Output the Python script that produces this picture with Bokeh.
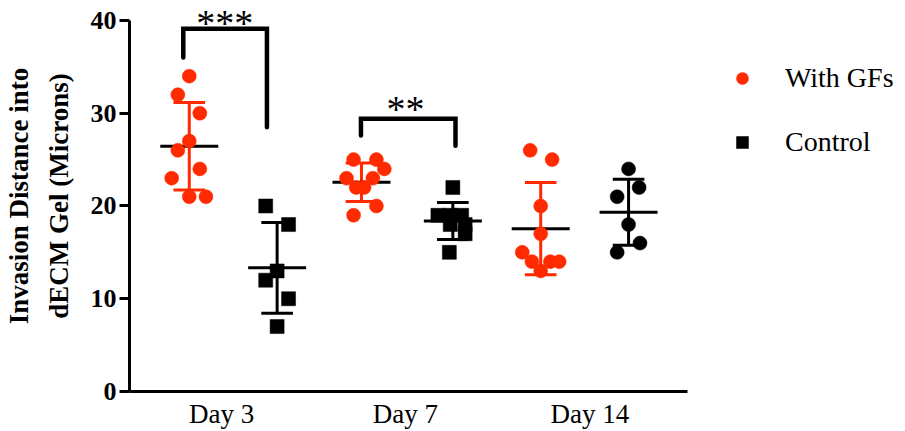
import numpy as np
from bokeh.plotting import figure
from bokeh.models import Range1d, FixedTicker, Legend, LegendItem
from bokeh.core.properties import value
from bokeh.embed import file_html
from bokeh.resources import INLINE

# ---------------- data ----------------
group_names = ["Day 3 With GFs", "Day 3 Control", "Day 7 With GFs", "Day 7 Control", "Day 14 With GFs", "Day 14 Control"]
group_pos = [1.0, 2.0, 2.96, 4.0, 5.0, 6.0]

gf_d3 = [34, 32, 30, 27, 26, 24, 23, 21, 21]
gf_d3_jit = [0, -0.13, 0.12, 0, -0.13, 0.12, -0.2, 0, 0.19]
ctrl_d3 = [20, 18, 13, 12, 10, 7]
ctrl_d3_jit = [-0.13, 0.13, 0, -0.13, 0.13, 0]
gf_d7 = [25, 25, 24, 23, 23, 22, 22, 20, 19]
gf_d7_jit = [-0.09, 0.17, 0.26, -0.17, 0.13, -0.06, 0.03, 0.17, -0.09]
ctrl_d7 = [22, 19, 19, 19, 18, 18, 17, 15]
ctrl_d7_jit = [0, -0.17, 0.1, -0.03, -0.03, 0.14, 0.14, -0.04]
gf_d14 = [26, 25, 20, 17, 15, 14, 14, 14, 13]
gf_d14_jit = [-0.12, 0.13, 0, 0, -0.21, -0.1, 0.11, 0.21, 0]
ctrl_d14 = [24, 22, 21, 18, 16, 15]
ctrl_d14_jit = [0, 0.12, -0.13, 0, 0.13, -0.13]

day_labels = ["Day 3", "Day 7", "Day 14"]
day_label_pos = [1.368, 3.46, 5.56]
y_ticks = [0, 10, 20, 30, 40]

sig_text = ["***", "**"]
sig_x = [1.405, 3.46]
sig_y = [39.7, 30.5]
bracket_xs = [[0.932, 0.932, 1.884, 1.884], [2.954, 2.954, 4.03, 4.03]]
bracket_ys = [[36.0, 39.1, 39.1, 28.5], [27.6, 29.4, 29.4, 26.5]]

RED = "#ff2a00"
BLACK = "#000000"
FONT = "Liberation Serif"

groups = [gf_d3, ctrl_d3, gf_d7, ctrl_d7, gf_d14, ctrl_d14]
jits = [gf_d3_jit, ctrl_d3_jit, gf_d7_jit, ctrl_d7_jit, gf_d14_jit, ctrl_d14_jit]
bar_colors = [RED, BLACK, RED, BLACK, RED, BLACK]

# ---------------- figure ----------------
x0 = 1 - 60 / 88.2
x1 = x0 + 779 / 88.2
p = figure(width=905, height=431, x_range=Range1d(x0, x1), y_range=Range1d(0, 42.156),
           output_backend="svg", toolbar_location=None,
           min_border_left=126, min_border_right=0, min_border_top=0, min_border_bottom=40)
p.outline_line_color = None
p.grid.visible = False
p.background_fill_color = "white"

# error bars (mean +/- SD) and mean lines
for pos, vals, col in zip(group_pos, groups, bar_colors):
    m = float(np.mean(vals))
    sd = float(np.std(vals, ddof=1))
    p.segment(x0=[pos, pos - 0.18, pos - 0.18], y0=[m - sd, m + sd, m - sd],
              x1=[pos, pos + 0.18, pos + 0.18], y1=[m + sd, m + sd, m - sd],
              line_color=col, line_width=3)
    p.segment(x0=[pos - 0.33], y0=[m], x1=[pos + 0.33], y1=[m], line_color=BLACK, line_width=3)

# points
gf_x = []; gf_y = []
for i in (0, 2, 4):
    gf_x += [group_pos[i] + j for j in jits[i]]
    gf_y += list(groups[i])
sq_x = []; sq_y = []
for i in (1, 3):
    sq_x += [group_pos[i] + j for j in jits[i]]
    sq_y += list(groups[i])
c14_x = [group_pos[5] + j for j in jits[5]]
c14_y = list(groups[5])

r_gf = p.scatter(gf_x, gf_y, marker="circle", size=14, fill_color=RED, line_color=RED, line_width=0.5)
r_sq = p.scatter(sq_x, sq_y, marker="square", size=14, fill_color=BLACK, line_color=BLACK, line_width=0.5)
p.scatter(c14_x, c14_y, marker="circle", size=14, fill_color=BLACK, line_color=BLACK, line_width=0.5)

# significance brackets
p.multi_line(xs=bracket_xs, ys=bracket_ys, line_color=BLACK, line_width=4.5,
             line_join="miter", line_cap="round")
p.text(x=sig_x, y=sig_y, text=sig_text, text_align="center", text_baseline="alphabetic",
       text_font=value(FONT), text_font_size="38px", text_color=BLACK)

# axes
xa = p.xaxis[0]
xa.bounds = (x0, 6.669)
xa.ticker = FixedTicker(ticks=day_label_pos)
xa.major_label_overrides = {pos: lab for pos, lab in zip(day_label_pos, day_labels)}
xa.major_tick_line_color = None
xa.major_tick_out = 0
xa.major_tick_in = 0
xa.minor_tick_line_color = None
xa.axis_line_width = 3
xa.axis_line_color = BLACK
xa.major_label_text_font = FONT
xa.major_label_text_font_size = "27px"
xa.major_label_text_color = BLACK
xa.major_label_standoff = 7

ya = p.yaxis[0]
ya.bounds = (0, 40)
ya.ticker = FixedTicker(ticks=y_ticks)
ya.minor_tick_line_color = None
ya.major_tick_out = 10
ya.major_tick_in = 0
ya.major_tick_line_width = 3
ya.axis_line_width = 3
ya.axis_line_color = BLACK
ya.major_label_text_font = FONT
ya.major_label_text_font_style = "bold"
ya.major_label_text_font_size = "26px"
ya.major_label_text_color = BLACK
ya.major_label_standoff = 3
ya.axis_label = "Invasion Distance into\ndECM Gel (Microns)"
ya.axis_label_text_font = FONT
ya.axis_label_text_font_style = "bold"
ya.axis_label_text_font_size = "27px"
ya.axis_label_text_line_height = 1.33
ya.axis_label_text_color = BLACK
ya.axis_label_standoff = 14

legend = Legend(items=[LegendItem(label="With GFs", renderers=[r_gf]),
                       LegendItem(label="Control", renderers=[r_sq])],
                location=(598, 232), glyph_width=30, glyph_height=34, label_height=34,
                spacing=30, padding=0, margin=0, border_line_color=None,
                background_fill_alpha=0, label_standoff=28,
                label_text_font=FONT, label_text_font_size="28px", label_text_color=BLACK)
p.add_layout(legend)

open("out.html", "w").write(file_html(p, INLINE))
